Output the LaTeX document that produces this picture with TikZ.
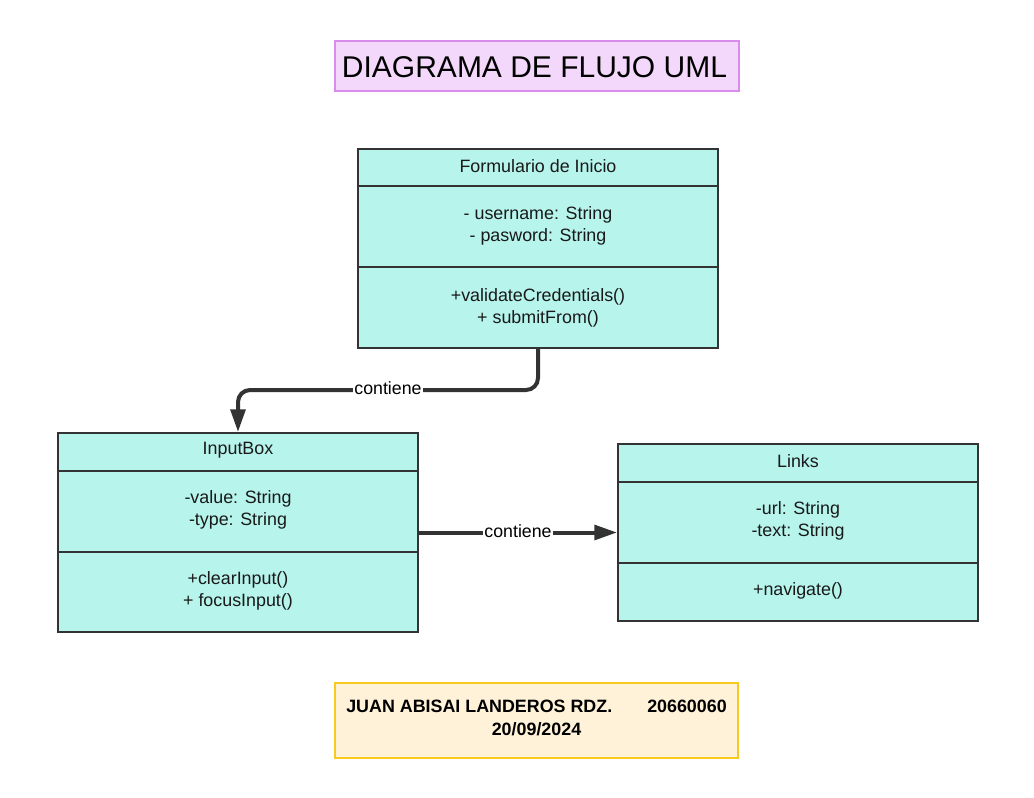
\documentclass[tikz,border=0pt]{standalone}
\usepackage{fontspec}
\setmainfont{Liberation Sans}
\usetikzlibrary{arrows.meta}
\definecolor{linec}{HTML}{333333}
\definecolor{cyanf}{HTML}{B6F4EC}
\definecolor{titlef}{HTML}{F3D8FB}
\definecolor{titled}{HTML}{D98BEE}
\definecolor{footf}{HTML}{FFF2D9}
\definecolor{footd}{HTML}{F7CA1E}
\tikzset{
  cls/.style={draw=linec, fill=cyanf, line width=1.5pt, minimum width=270pt, inner sep=0pt},
  divl/.style={draw=linec, line width=1.5pt},
  txt/.style={font=\fontsize{13.4pt}{16.5pt}\selectfont, align=center, inner sep=0pt, text=black!90},
  conn/.style={draw=linec, line width=3pt, -{Triangle[length=17pt,width=11pt]}},
  lbl/.style={font=\fontsize{13.3pt}{16pt}\selectfont, fill=white, inner sep=1pt, text=black}
}
\begin{document}
\begin{tikzpicture}[x=0.75pt,y=-0.75pt]
\useasboundingbox (0,0) rectangle (1034,797);
\fill[white] (0,0) rectangle (1034,797);
% title
\node[draw=titled, fill=titlef, line width=1.5pt, minimum width=303pt, minimum height=37.5pt] (title) at (537,66) {};
\node[font=\fontsize{22.5pt}{26pt}\selectfont, inner sep=0pt] (titletext) at (534.5,67) {DIAGRAMA DE FLUJO UML};
% class Formulario
\node[cls, minimum height=149.25pt] (form) at (538,248.5) {};
\draw[divl] (358,186) -- (718,186);
\draw[divl] (358,267) -- (718,267);
\node[txt] (formh) at (538,166) {Formulario de Inicio};
\node[txt] (forma) at (538,226) {- username: String\\- pasword: String};
\node[txt] (formm) at (538,307.5) {+validateCredentials()\\+ submitFrom()};
% class InputBox
\node[cls, minimum height=149.25pt] (ib) at (238,532.5) {};
\draw[divl] (58,471) -- (418,471);
\draw[divl] (58,552) -- (418,552);
\node[txt] (ibh) at (238,450) {InputBox};
\node[txt] (iba) at (238,510) {-value: String\\-type: String};
\node[txt] (ibm) at (238,591) {+clearInput()\\+ focusInput()};
% class Links
\node[cls, minimum height=132.75pt] (lk) at (798,532.5) {};
\draw[divl] (618,482) -- (978,482);
\draw[divl] (618,563) -- (978,563);
\node[txt] (lkh) at (798,461) {Links};
\node[txt] (lka) at (798,521) {-url: String\\-text: String};
\node[txt] (lkm) at (798,591) {+navigate()};
% connectors
\draw[conn, rounded corners=9pt] (form.south) -- (538,390) -- (238,390) -- (ib.north);
\node[lbl] (c1) at (388,388) {contiene};
\draw[conn] (ib.east) -- (lk.west);
\node[lbl] (c2) at (518,531) {contiene};
% footer
\node[draw=footd, fill=footf, line width=1.5pt, minimum width=302.25pt, minimum height=56.25pt] (foot) at (536.5,720.5) {};
\node[font=\bfseries\fontsize{13.4pt}{16pt}\selectfont, anchor=west, inner sep=0pt] (name) at (346,706) {JUAN ABISAI LANDEROS RDZ.};
\node[font=\bfseries\fontsize{13.4pt}{16pt}\selectfont, anchor=east, inner sep=0pt] (num) at (727,706) {20660060};
\node[font=\bfseries\fontsize{13.4pt}{16pt}\selectfont, inner sep=0pt] (date) at (536.5,729) {20/09/2024};
\end{tikzpicture}
\end{document}
